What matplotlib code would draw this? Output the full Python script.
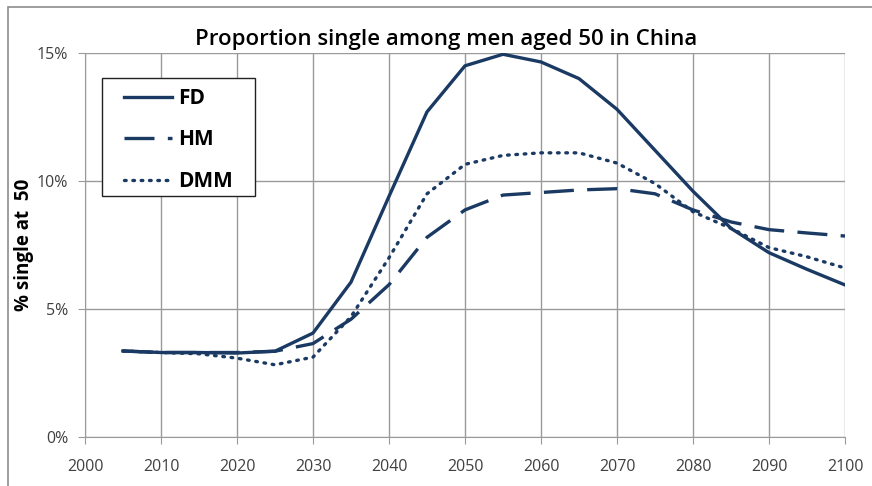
import matplotlib.pyplot as plt
from matplotlib.patches import Rectangle
from matplotlib.ticker import FuncFormatter

# -------------------------------
# Data (percent single at age 50)
# -------------------------------
years = [2005, 2010, 2015, 2020, 2025, 2030, 2035, 2040, 2045, 2050,
         2055, 2060, 2065, 2070, 2075, 2080, 2085, 2090, 2095, 2100]
fd = [3.36, 3.30, 3.30, 3.28, 3.35, 4.06, 6.05, 9.4, 12.7, 14.5,
      14.95, 14.65, 14.0, 12.8, 11.2, 9.6, 8.15, 7.2, 6.55, 5.94]
hm = [3.36, 3.30, 3.30, 3.30, 3.35, 3.65, 4.6, 5.95, 7.8, 8.87,
      9.45, 9.55, 9.65, 9.7, 9.5, 8.87, 8.4, 8.1, 7.97, 7.85]
dmm = [3.36, 3.30, 3.25, 3.08, 2.82, 3.12, 4.7, 7.0, 9.5, 10.65,
       11.0, 11.1, 11.1, 10.7, 9.9, 8.8, 8.15, 7.4, 7.04, 6.6]

x_ticks = list(range(2000, 2101, 10))
y_ticks = [0, 5, 10, 15]

navy = "#1b3a63"
grid_c = "#9a9a9a"
text_c = "#404040"

fig = plt.figure(figsize=(8.72, 4.86), dpi=100)
plt.rcParams["font.family"] = ["Open Sans", "DejaVu Sans"]

# outer chart frame (only top/left visible)
fig.patches.append(Rectangle((8 / 872, -0.1), 1.2, 1 - 7 / 486 + 0.1,
                             transform=fig.transFigure, fill=False,
                             edgecolor="#8c8c8c", linewidth=1.2))

ax = fig.add_axes([85 / 872, 1 - 437 / 486, 760 / 872, 384 / 486])

ax.plot(years, fd, color=navy, lw=2.4, linestyle="-", label="FD")
ax.plot(years, hm, color=navy, lw=2.4, linestyle=(0, (9, 4)), label="HM")
ax.plot(years, dmm, color=navy, lw=2.4, linestyle=(0, (0.5, 2.0)),
        dash_capstyle="round", label="DMM")

ax.set_xlim(2000, 2100)
ax.set_ylim(0, 15)
ax.set_xticks(x_ticks)
ax.set_yticks(y_ticks)
ax.yaxis.set_major_formatter(FuncFormatter(lambda v, p: f"{v:.0f}%"))
ax.grid(True, color=grid_c, linewidth=1)
ax.set_axisbelow(True)

for s in ["top", "right"]:
    ax.spines[s].set_visible(False)
ax.spines["left"].set_color(grid_c)
ax.spines["bottom"].set_color(grid_c)
ax.tick_params(axis="both", colors=grid_c, labelcolor=text_c, labelsize=11.5,
               length=5, direction="out")
ax.tick_params(axis="x", pad=11)
ax.tick_params(axis="y", pad=7)

ax.set_ylabel("% single at  50", fontsize=13.5, fontweight="bold", color="black",
              labelpad=2)
fig.text(446 / 872, 1 - 39 / 486, "Proportion single among men aged 50 in China",
         fontsize=16, fontweight="semibold", color="black",
         ha="center", va="center")

# legend box drawn separately so padding matches the original
ax.add_patch(Rectangle(((102 - 85) / 760, 1 - (196 - 53) / 384),
                       153 / 760, 118 / 384, transform=ax.transAxes,
                       facecolor="white", edgecolor="#222222", linewidth=1.0,
                       zorder=4))
leg = ax.legend(loc="upper left",
                bbox_to_anchor=((124 - 85) / 760, 1 - (88 - 53) / 384),
                fontsize=15, frameon=False, handlelength=2.3,
                handletextpad=0.3, labelspacing=0.98, borderpad=0,
                borderaxespad=0)
leg.set_zorder(5)
for t in leg.get_texts():
    t.set_fontweight("bold")

fig.savefig("out.png", dpi=100)
